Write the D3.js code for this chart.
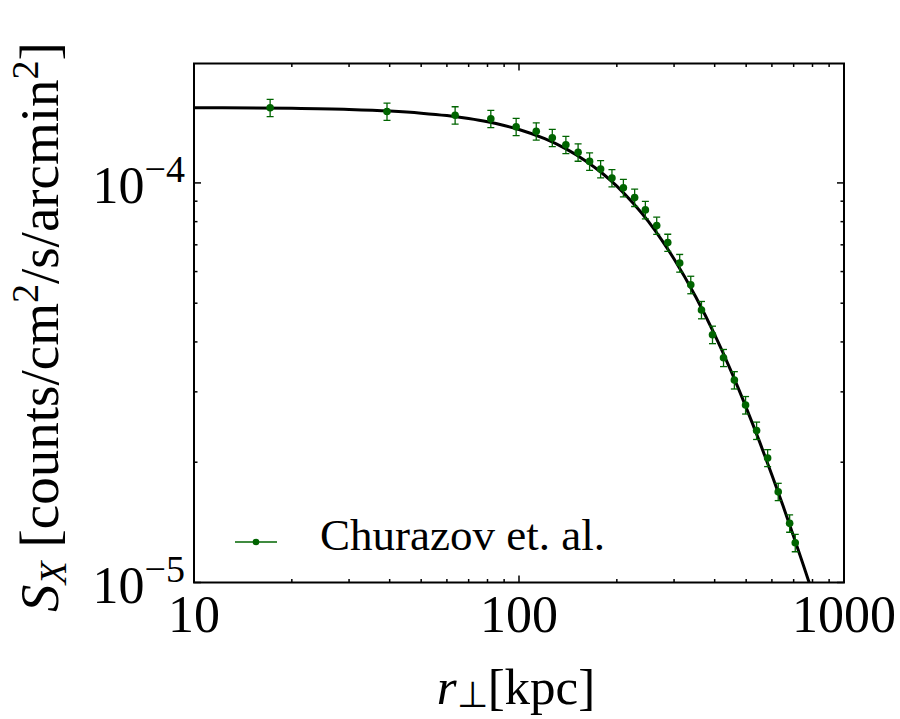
<!DOCTYPE html>
<html>
<head>
<meta charset="utf-8">
<script src="https://cdn.jsdelivr.net/npm/d3@7"></script>
<style>
  html, body { margin: 0; padding: 0; background: #fff; }
  svg { display: block; }
  text { font-family: "Liberation Serif", "Times New Roman", serif; fill: #000; }
</style>
</head>
<body>
<svg id="chart" width="900" height="719"></svg>
<script>
// ---- data ----
const rData = [17.15, 39.25, 63.6, 81.9, 98.0, 113.0, 126.6, 139.4, 152.0, 164.9,
               178.3, 193.2, 209.5, 226.9, 244.8, 265.3, 286.9, 312.2, 337.7, 364.3,
               393.9, 425.9, 459.9, 497.9, 538.3, 582.1, 627.5, 680.3, 707.9];
const sData = [1.542e-4, 1.509e-4, 1.477e-4, 1.447e-4, 1.382e-4, 1.347e-4, 1.297e-4, 1.246e-4, 1.193e-4, 1.132e-4,
               1.083e-4, 1.029e-4, 9.72e-5, 9.19e-5, 8.56e-5, 7.82e-5, 7.09e-5, 6.30e-5, 5.56e-5, 4.81e-5,
               4.17e-5, 3.65e-5, 3.21e-5, 2.78e-5, 2.40e-5, 2.05e-5, 1.687e-5, 1.406e-5, 1.257e-5];
const sErr  = [7.7e-6, 7.5e-6, 7.4e-6, 7.2e-6, 6.9e-6, 6.7e-6, 6.5e-6, 6.2e-6, 6.0e-6, 5.7e-6,
               5.4e-6, 5.1e-6, 4.9e-6, 4.6e-6, 4.3e-6, 3.9e-6, 3.5e-6, 3.2e-6, 2.8e-6, 2.4e-6,
               2.1e-6, 1.8e-6, 1.6e-6, 1.4e-6, 1.2e-6, 1.0e-6, 8.4e-7, 7.0e-7, 6.3e-7];

// fitted model curve
const fitR = [10, 20, 30, 40, 50, 60, 70, 80, 90, 100, 120, 140, 160, 180, 200, 225, 250, 275, 300,
              350, 400, 450, 500, 550, 600, 650, 700, 750, 800];
const fitS = [1.543e-4, 1.537e-4, 1.527e-4, 1.513e-4, 1.495e-4, 1.474e-4, 1.449e-4, 1.422e-4, 1.392e-4, 1.360e-4,
              1.290e-4, 1.215e-4, 1.137e-4, 1.059e-4, 9.82e-5, 8.88e-5, 8.01e-5, 7.19e-5, 6.45e-5,
              5.18e-5, 4.17e-5, 3.37e-5, 2.74e-5, 2.249e-5, 1.859e-5, 1.551e-5, 1.304e-5, 1.105e-5, 9.43e-6];

const xMajor = [10, 100, 1000];
const xMajorLabels = ["10", "100", "1000"];
const xMinor = [20, 30, 40, 50, 60, 70, 80, 90, 200, 300, 400, 500, 600, 700, 800, 900];
const yMajor = [1e-5, 1e-4];
const yMajorBase = ["10", "10"];
const yMajorExp = ["\u22125", "\u22124"];
const yMinor = [2e-5, 3e-5, 4e-5, 5e-5, 6e-5, 7e-5, 8e-5, 9e-5];
const legendLabel = "Churazov et. al.";

// ---- layout ----
const svg = d3.select("#chart");
const L = 194, R = 844, T = 63.5, B = 582.5;
const x = d3.scaleLog().domain([10, 1000]).range([L, R]);
const y = d3.scaleLog().domain([1e-5, 1.99e-4]).range([B, T]);
const green = "#006400";

svg.append("defs").append("clipPath").attr("id", "clip")
  .append("rect").attr("x", L).attr("y", T).attr("width", R - L).attr("height", B - T);

// ticks (inward on all sides)
const tickG = svg.append("g").attr("stroke", "#000").attr("stroke-width", 1.5);
const majLen = 7, minLen = 3.5;
xMajor.forEach(v => {
  tickG.append("line").attr("x1", x(v)).attr("x2", x(v)).attr("y1", B).attr("y2", B - majLen);
  tickG.append("line").attr("x1", x(v)).attr("x2", x(v)).attr("y1", T).attr("y2", T + majLen);
});
xMinor.forEach(v => {
  tickG.append("line").attr("x1", x(v)).attr("x2", x(v)).attr("y1", B).attr("y2", B - minLen);
  tickG.append("line").attr("x1", x(v)).attr("x2", x(v)).attr("y1", T).attr("y2", T + minLen);
});
yMajor.forEach(v => {
  tickG.append("line").attr("y1", y(v)).attr("y2", y(v)).attr("x1", L).attr("x2", L + majLen);
  tickG.append("line").attr("y1", y(v)).attr("y2", y(v)).attr("x1", R).attr("x2", R - majLen);
});
yMinor.forEach(v => {
  tickG.append("line").attr("y1", y(v)).attr("y2", y(v)).attr("x1", L).attr("x2", L + minLen);
  tickG.append("line").attr("y1", y(v)).attr("y2", y(v)).attr("x1", R).attr("x2", R - minLen);
});

// frame
svg.append("rect").attr("x", L).attr("y", T).attr("width", R - L).attr("height", B - T)
  .attr("fill", "none").attr("stroke", "#000").attr("stroke-width", 2);

// x tick labels
xMajor.forEach((v, i) => {
  svg.append("text").attr("x", x(v)).attr("y", 632).attr("text-anchor", "middle")
    .attr("font-size", 52).text(xMajorLabels[i]);
});
// y tick labels
yMajor.forEach((v, i) => {
  const t = svg.append("text").attr("x", 185).attr("y", y(v) + 20).attr("text-anchor", "end")
    .attr("font-size", 52);
  t.append("tspan").text(yMajorBase[i]);
  t.append("tspan").attr("font-size", 38).attr("dy", -21).text(yMajorExp[i]);
});

// axis titles
const xt = svg.append("text").attr("x", 516).attr("y", 704).attr("text-anchor", "middle").attr("font-size", 51);
xt.append("tspan").attr("font-style", "italic").text("r");
xt.append("tspan").attr("font-size", 36).attr("dy", 3).text("\u22A5");
xt.append("tspan").attr("dy", -3).text("[kpc]");

const yt = svg.append("text").attr("transform", "translate(58,327) rotate(-90)")
  .attr("text-anchor", "middle").attr("font-size", 55);
yt.append("tspan").attr("font-style", "italic").text("S");
yt.append("tspan").attr("font-style", "italic").attr("font-size", 38).attr("dy", 8).text("X");
yt.append("tspan").attr("dy", -8).text(" [counts/cm");
yt.append("tspan").attr("font-size", 38).attr("dy", -20).text("2");
yt.append("tspan").attr("dy", 20).text("/s/arcmin");
yt.append("tspan").attr("font-size", 38).attr("dy", -20).text("2");
yt.append("tspan").attr("dy", 20).text("]");

// plot content
const plot = svg.append("g").attr("clip-path", "url(#clip)");
const fitPts = fitR.map((r, i) => [r, fitS[i]]);
plot.append("path").datum(fitPts)
  .attr("fill", "none").attr("stroke", "#000").attr("stroke-width", 3)
  .attr("d", d3.line().x(d => x(d[0])).y(d => y(d[1])).curve(d3.curveMonotoneX));

const pts = rData.map((r, i) => ({ r, s: sData[i], e: sErr[i] }));
const eb = plot.append("g").attr("stroke", green).attr("stroke-width", 1.3).attr("fill", "none");
pts.forEach(p => {
  const cx = x(p.r), y1 = y(p.s + p.e), y2 = y(p.s - p.e);
  eb.append("line").attr("x1", cx).attr("x2", cx).attr("y1", y1).attr("y2", y2);
  eb.append("line").attr("x1", cx - 3.5).attr("x2", cx + 3.5).attr("y1", y1).attr("y2", y1);
  eb.append("line").attr("x1", cx - 3.5).attr("x2", cx + 3.5).attr("y1", y2).attr("y2", y2);
});
plot.append("g").selectAll("circle").data(pts).join("circle")
  .attr("cx", d => x(d.r)).attr("cy", d => y(d.s)).attr("r", 3.8).attr("fill", green);

// legend
svg.append("line").attr("x1", 235).attr("x2", 277).attr("y1", 542).attr("y2", 542)
  .attr("stroke", green).attr("stroke-width", 1.3);
svg.append("circle").attr("cx", 256).attr("cy", 542).attr("r", 3.3).attr("fill", green);
svg.append("text").attr("x", 320).attr("y", 550).attr("font-size", 45).text(legendLabel);
</script>
</body>
</html>
